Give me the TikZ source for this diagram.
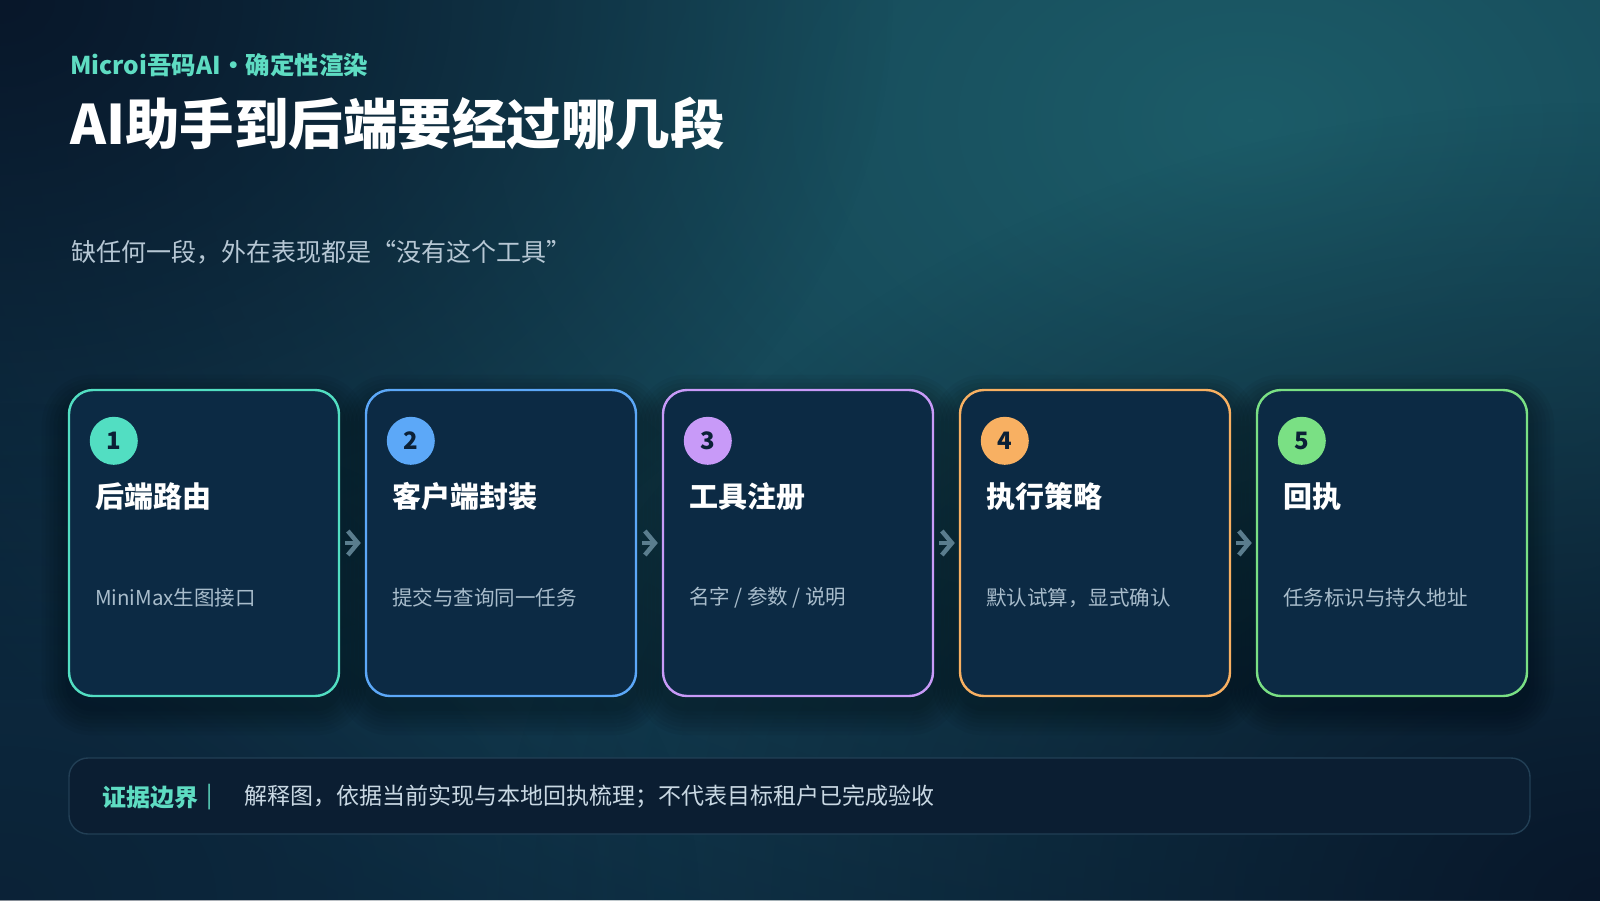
\documentclass[tikz,border=0pt]{standalone}
\usepackage{fontspec}
\setmainfont{Noto Sans CJK SC}
\usetikzlibrary{arrows.meta,fadings,calc}
\definecolor{bgbase}{HTML}{0E2E44}
\definecolor{bgteal}{HTML}{1C5C68}
\definecolor{bgdark}{HTML}{08172A}
\definecolor{cardfill}{HTML}{0C2A44}
\definecolor{cA}{HTML}{52DEC2}
\definecolor{cB}{HTML}{5CA8F8}
\definecolor{cC}{HTML}{C89AF8}
\definecolor{cD}{HTML}{F8B062}
\definecolor{cE}{HTML}{7AE084}
\definecolor{headteal}{HTML}{5EDCC2}
\definecolor{subgray}{HTML}{B6C7D4}
\definecolor{descgray}{HTML}{A8BCCB}
\definecolor{numdark}{HTML}{0B2036}
\definecolor{arrowgray}{HTML}{5A7D8E}
\definecolor{barfill}{HTML}{0B1E32}
\definecolor{barline}{HTML}{223F55}
\definecolor{bartext}{HTML}{C9D8E3}
\tikzfading[name=softfade, inner color=transparent!0, outer color=transparent!100]
\pgfdeclarelayer{bg}
\pgfsetlayers{bg,main}
\tikzset{
  card/.style={draw, line width=2.4pt, fill=cardfill, rounded corners=24pt,
    minimum width=270pt, minimum height=306pt, inner sep=0pt},
  numdot/.style={circle, minimum size=48pt, inner sep=0pt, text=numdark,
    font=\fontsize{24}{28}\selectfont\bfseries},
  cardtitle/.style={anchor=west, inner sep=0pt, text=white,
    font=\fontsize{29}{34}\selectfont\bfseries},
  carddesc/.style={anchor=west, inner sep=0pt, text=descgray,
    font=\fontsize{20.5}{25}\selectfont},
  flow/.style={draw=arrowgray, line width=4.5pt, shorten <=5pt, shorten >=4pt,
    -{Straight Barb[length=10pt, width=24pt]}},
}
\begin{document}
\begin{tikzpicture}[x=1pt,y=-1pt]
\useasboundingbox (0,0) rectangle (1600,900);
\begin{pgfonlayer}{bg}
  \begin{scope}
    \clip (0,0) rectangle (1600,900);
    \fill[bgbase] (0,0) rectangle (1600,900);
    \fill[bgteal, path fading=softfade] (1250,120) ellipse (1500 and 1000);
    \fill[bgdark, path fading=softfade] (0,0) ellipse (900 and 700);
    \fill[bgdark, path fading=softfade] (1600,900) ellipse (1100 and 800);
    \fill[bgdark, opacity=0.5, path fading=softfade] (0,900) ellipse (700 and 500);
  \end{scope}
\end{pgfonlayer}

% header
\node[anchor=west, inner sep=0pt, text=headteal, font=\fontsize{24.5}{28}\selectfont\bfseries]
  (kicker) at (70,65) {Microi吾码AI・确定性渲染};
\node[anchor=west, inner sep=0pt, text=white, font=\fontsize{54.5}{64}\selectfont\bfseries]
  (title) at (70,124) {AI助手到后端要经过哪几段};
\node[anchor=west, inner sep=0pt, text=subgray, font=\fontsize{25}{29}\selectfont]
  (subtitle) at (71,252) {缺任何一段，外在表现都是“没有这个工具”};

% cards
\foreach \i/\cx/\col/\num/\ttl/\dsc in {
  1/204/cA/1/后端路由/MiniMax生图接口,
  2/501/cB/2/客户端封装/提交与查询同一任务,
  3/798/cC/3/工具注册/{名字 / 参数 / 说明},
  4/1095/cD/4/执行策略/默认试算，显式确认,
  5/1392/cE/5/回执/任务标识与持久地址}{
  \node[card, draw=\col] (c\i) at (\cx,543) {};
  \node[numdot, fill=\col] (n\i) at ($(c\i.north west)+(46,52)$) {\num};
  \node[cardtitle] (t\i) at ($(c\i.north west)+(27,108)$) {\ttl};
  \node[carddesc] (d\i) at ($(c\i.north west)+(27,209)$) {\dsc};
  \begin{pgfonlayer}{bg}
    \foreach \r in {2,6,10,14,18,22,26}{
      \fill[black, opacity=0.045, rounded corners=24pt+\r pt]
        ($(c\i.north west)+(-\r,-\r+12)$) rectangle ($(c\i.south east)+(\r,\r+12)$);
    }
  \end{pgfonlayer}
}

% arrows
\draw[flow] (c1.east) -- (c2.west);
\draw[flow] (c2.east) -- (c3.west);
\draw[flow] (c3.east) -- (c4.west);
\draw[flow] (c4.east) -- (c5.west);

% evidence bar
\node[draw=barline, line width=1.4pt, fill=barfill, rounded corners=19pt,
  minimum width=1461pt, minimum height=76pt, inner sep=0pt] (bar) at (799.5,796) {};
\node[anchor=west, inner sep=0pt, text=headteal, font=\fontsize{24}{28}\selectfont\bfseries]
  (barlabel) at (102,797) {证据边界};
\node[anchor=west, inner sep=0pt, text=headteal, font=\fontsize{23}{28}\selectfont]
  (barsep) at (206,797) {|};
\node[anchor=west, inner sep=0pt, text=bartext, font=\fontsize{23}{28}\selectfont]
  (bartxt) at (244,797) {解释图，依据当前实现与本地回执梳理；不代表目标租户已完成验收};
\end{tikzpicture}
\end{document}
